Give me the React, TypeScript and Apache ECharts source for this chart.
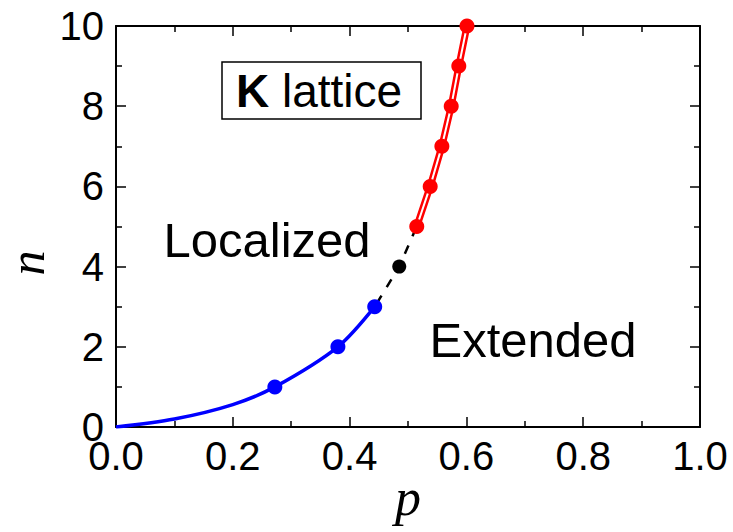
import React, { useEffect, useRef } from "react";
import * as echarts from "echarts";

const blueCurve: [number, number][] = [[0, 0], [0.1, 0.2], [0.2, 0.56], [0.272, 1], [0.38, 2], [0.443, 3]];
const bluePoints: [number, number][] = [[0.272, 1], [0.38, 2], [0.443, 3]];
const blackPoints: [number, number][] = [[0.485, 4]];
const dashedLine: [number, number][] = [[0.443, 3], [0.485, 4], [0.515, 5]];
const redPoints: [number, number][] = [[0.515, 5], [0.538, 6], [0.558, 7], [0.574, 8], [0.587, 9], [0.601, 10]];
const xTicks = [0, 0.2, 0.4, 0.6, 0.8, 1.0];
const yTicks = [0, 2, 4, 6, 8, 10];

const FONT = "'Liberation Sans', Arial, sans-serif";
const SERIF = "'Liberation Serif', 'Times New Roman', serif";

export default function App() {
  const ref = useRef<HTMLDivElement>(null);
  useEffect(() => {
    if (!ref.current) return;
    const chart = echarts.init(ref.current, undefined, { renderer: "svg" });
    const axisLine = { show: true, onZero: false, lineStyle: { color: "#000", width: 2 } };
    const tick = { show: true, inside: true, length: 10, lineStyle: { color: "#000", width: 1.5 } };
    const minor = { show: true, splitNumber: 2, length: 6, lineStyle: { color: "#000", width: 1.5 } };
    const baseX = {
      type: "value" as const,
      min: xTicks[0],
      max: xTicks[xTicks.length - 1],
      interval: 0.2,
      splitLine: { show: false },
      axisLine,
      axisTick: tick,
      minorTick: minor,
    };
    const baseY = {
      type: "value" as const,
      min: yTicks[0],
      max: yTicks[yTicks.length - 1],
      interval: 2,
      splitLine: { show: false },
      axisLine,
      axisTick: tick,
      minorTick: minor,
    };
    chart.setOption({
      animation: false,
      backgroundColor: "#fff",
      grid: { left: 116, right: 33, top: 26, bottom: 105, containLabel: false },
      xAxis: [
        {
          ...baseX,
          position: "bottom",
          axisLabel: {
            color: "#000", fontSize: 40, fontFamily: FONT, margin: 9,
            formatter: (v: number) => v.toFixed(1),
          },
        },
        { ...baseX, position: "top", axisLabel: { show: false } },
      ],
      yAxis: [
        {
          ...baseY,
          position: "left",
          axisLabel: { color: "#000", fontSize: 40, fontFamily: FONT, margin: 12 },
        },
        { ...baseY, position: "right", axisLabel: { show: false } },
      ],
      graphic: [
        {
          type: "text", x: 27, y: 263, rotation: Math.PI / 2,
          style: { text: "n", font: `italic 50px ${SERIF}`, fill: "#000", align: "center", verticalAlign: "middle" },
        },
        {
          type: "text", x: 408, y: 497,
          style: { text: "p", font: `italic 52px ${SERIF}`, fill: "#000", align: "center", verticalAlign: "middle" },
        },
        {
          type: "text", x: 267, y: 240,
          style: { text: "Localized", font: `49px ${FONT}`, fill: "#000", align: "center", verticalAlign: "middle" },
        },
        {
          type: "text", x: 533, y: 340,
          style: { text: "Extended", font: `49px ${FONT}`, fill: "#000", align: "center", verticalAlign: "middle" },
        },
        {
          type: "rect", shape: { x: 222, y: 62, width: 199, height: 57 },
          style: { fill: "#fff", stroke: "#000", lineWidth: 1.5 },
        },
        {
          type: "text", x: 319, y: 91,
          style: {
            text: "{b|K} lattice",
            font: `46px ${FONT}`,
            fill: "#000",
            align: "center",
            verticalAlign: "middle",
            rich: { b: { fontWeight: "bold", fontSize: 46, fontFamily: FONT, fill: "#000" } },
          },
        },
      ],
      series: [
        {
          type: "line", data: blueCurve, smooth: 0.3, showSymbol: false, symbol: "none",
          lineStyle: { color: "#0000ff", width: 3.5 }, z: 2,
        },
        {
          type: "line", data: dashedLine, showSymbol: false, symbol: "none",
          lineStyle: { color: "#000", width: 2.5, type: [9, 10], dashOffset: -4 }, z: 2,
        },
        {
          type: "line", data: redPoints, showSymbol: false, symbol: "none",
          lineStyle: { color: "#ff0000", width: 7 }, z: 2,
        },
        {
          type: "line", data: redPoints, showSymbol: false, symbol: "none",
          lineStyle: { color: "#ffffff", width: 2 }, z: 3,
        },
        {
          type: "scatter", data: bluePoints, symbolSize: 15, clip: false,
          itemStyle: { color: "#0000ff", opacity: 1 }, z: 4,
        },
        {
          type: "scatter", data: blackPoints, symbolSize: 14, clip: false,
          itemStyle: { color: "#000", opacity: 1 }, z: 4,
        },
        {
          type: "scatter", data: redPoints, symbolSize: 15, clip: false,
          itemStyle: { color: "#ff0000", opacity: 1 }, z: 4,
        },
      ],
    });
    return () => chart.dispose();
  }, []);
  return <div ref={ref} style={{ width: 733, height: 532, position: "absolute", left: 0, top: 0 }} />;
}
